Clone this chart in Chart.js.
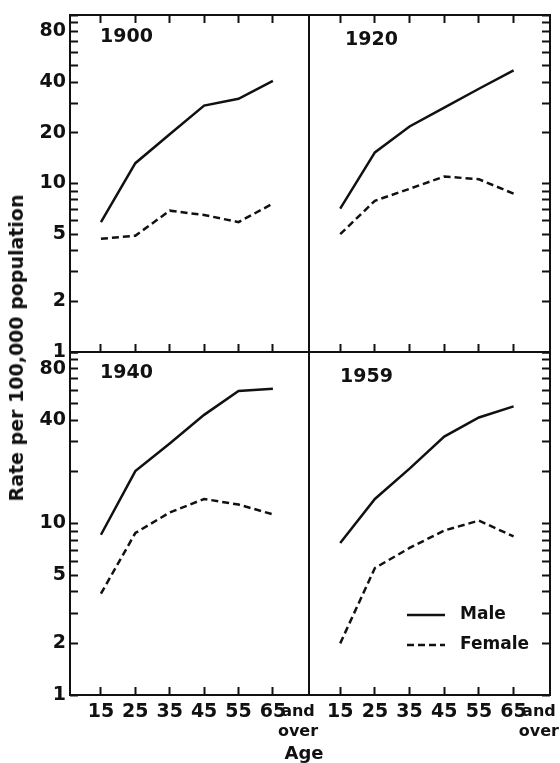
<!DOCTYPE html>
<html>
<head>
<meta charset="utf-8">
<script src="https://cdn.jsdelivr.net/npm/chart.js@4"></script>
<style>
  html, body { margin: 0; padding: 0; background: #fff; }
  body { width: 560px; height: 763px; position: relative; overflow: hidden; font-family: "DejaVu Sans", sans-serif; color: #111; }
  canvas { position: absolute; }
  #yTitle { position: absolute; left: 16px; top: 348px; transform: translate(-50%, -50%) rotate(-90deg); white-space: nowrap; font-size: 19px; font-weight: bold; }
  #xTitle { position: absolute; left: 304px; top: 753px; transform: translate(-50%, -50%); font-size: 18px; line-height: 18px; font-weight: bold; }
</style>
</head>
<body>
<canvas id="p1900" width="330" height="370" style="left:0;top:0"></canvas>
<canvas id="p1920" width="265" height="370" style="left:295px;top:0"></canvas>
<canvas id="p1940" width="330" height="423" style="left:0;top:340px"></canvas>
<canvas id="p1959" width="265" height="423" style="left:295px;top:340px"></canvas>
<div id="yTitle">Rate per 100,000 population</div>
<div id="xTitle">Age</div>
<script>
// age groups: 15-24, 25-34 ... 65 and over
const ages = [15, 25, 35, 45, 55, 65];
const ageTicks = [15, 25, 35, 45, 55, 65, 72.3]; // 72.3 only carries the "and over" text
const yTickMarks = [1, 2, 3, 4, 5, 6, 7, 8, 9, 10, 20, 30, 40, 50, 60, 70, 80, 90, 100];
const yLabelsTop = [1, 2, 5, 10, 20, 40, 80];
const yLabelsBottom = [1, 2, 5, 10, 40, 80];

const male1900 = [5.9, 13.2, 19.6, 29.0, 31.8, 40.7];
const female1900 = [4.7, 4.9, 6.9, 6.5, 5.9, 7.6];
const male1920 = [7.1, 15.3, 21.8, 28.2, 36.5, 46.9];
const female1920 = [5.0, 7.9, 9.3, 11.0, 10.6, 8.7];
const male1940 = [8.6, 20.2, 29.3, 43.0, 59.2, 61.0];
const female1940 = [3.9, 8.8, 11.6, 13.9, 12.9, 11.3];
const male1959 = [7.7, 13.9, 20.9, 32.1, 41.5, 48.2];
const female1959 = [2.0, 5.5, 7.2, 9.1, 10.4, 8.4];

const ink = '#111';
const fam = '"DejaVu Sans", sans-serif';
const isOver = c => c.tick && c.tick.value > 70;

const panelDeco = {
  id: 'panelDeco',
  afterDraw(chart, args, o) {
    const { ctx, chartArea: a } = chart;
    ctx.save();
    ctx.strokeStyle = ink;
    ctx.lineWidth = 2;
    ctx.strokeRect(a.left, a.top, a.right - a.left, a.bottom - a.top);
    ctx.fillStyle = ink;
    ctx.font = 'bold 19px ' + fam;
    ctx.textBaseline = 'middle';
    ctx.fillText(o.year, a.left + o.dx, a.top + o.dy);
    if (o.legend) {
      ctx.font = 'bold 17px ' + fam;
      chart.data.datasets.forEach((ds, i) => {
        const y = a.top + 263 + i * 30;
        ctx.beginPath();
        ctx.setLineDash(ds.borderDash || []);
        ctx.lineWidth = ds.borderWidth;
        ctx.moveTo(a.left + 98, y);
        ctx.lineTo(a.left + 136, y);
        ctx.stroke();
        ctx.setLineDash([]);
        ctx.fillText(ds.label, a.left + 151, y);
      });
    }
    ctx.restore();
  }
};

function noPad(s) { s.paddingTop = 0; s.paddingBottom = 0; s.paddingLeft = 0; s.paddingRight = 0; }

function xAxis(position, labels, height) {
  return {
    type: 'linear', position: position, min: 6, max: 75.5,
    afterBuildTicks: s => { s.ticks = (labels ? ageTicks : ages).map(v => ({ value: v })); },
    afterFit: s => { s.height = height; noPad(s); },
    grid: {
      drawOnChartArea: false, tickLength: -8, tickWidth: 2,
      tickColor: c => isOver(c) ? 'rgba(0,0,0,0)' : ink
    },
    border: { display: false },
    ticks: {
      display: labels, autoSkip: false, maxRotation: 0, minRotation: 0, padding: 14, color: ink,
      font: c => isOver(c) ? { family: fam, weight: 'bold', size: 16, lineHeight: 1.3 }
                           : { family: fam, weight: 'bold', size: 19 },
      callback: v => v > 70 ? ['and', 'over'] : String(v)
    }
  };
}

function makePanel(id, year, male, female, o) {
  const scales = {
    x: xAxis('bottom', o.bottom, o.bottom ? 68 : 0),
    y: {
      type: 'logarithmic', position: o.left ? 'left' : 'right', min: 1, max: 100,
      afterBuildTicks: s => { s.ticks = yTickMarks.map(v => ({ value: v })); },
      afterFit: s => { s.width = o.left ? 70 : 10; noPad(s); },
      grid: { drawOnChartArea: false, tickLength: -8, tickWidth: 2, tickColor: ink },
      border: { display: false },
      ticks: {
        display: o.left, autoSkip: false, padding: 12, color: ink,
        font: { family: fam, weight: 'bold', size: 19 },
        callback: v => (o.yLabels && o.yLabels.includes(v)) ? String(v) : ''
      }
    }
  };
  if (!o.bottom) scales.xt = xAxis('top', false, 0);

  new Chart(document.getElementById(id), {
    type: 'line',
    data: {
      datasets: [
        { label: 'Male', data: ages.map((a, i) => ({ x: a, y: male[i] })),
          borderColor: ink, borderWidth: 2.5, pointRadius: 0, tension: 0, xAxisID: 'x' },
        { label: 'Female', data: ages.map((a, i) => ({ x: a, y: female[i] })),
          borderColor: ink, borderWidth: 2.5, borderDash: [7, 4], pointRadius: 0, tension: 0, xAxisID: 'x' }
      ]
    },
    options: {
      responsive: false, animation: false,
      layout: { padding: o.pad },
      scales: scales,
      plugins: {
        legend: { display: false }, tooltip: { enabled: false },
        panelDeco: { year: year, dx: o.dx, dy: o.dy, legend: !!o.legend }
      }
    },
    plugins: [panelDeco]
  });
}

makePanel('p1900', '1900', male1900, female1900,
  { left: true, bottom: false, yLabels: yLabelsTop, pad: { top: 15, right: 21, bottom: 18, left: 0 }, dx: 30, dy: 22 });
makePanel('p1920', '1920', male1920, female1920,
  { left: false, bottom: false, pad: { top: 15, right: 0, bottom: 18, left: 14 }, dx: 36, dy: 25 });
makePanel('p1940', '1940', male1940, female1940,
  { left: true, bottom: true, yLabels: yLabelsBottom, pad: { top: 12, right: 21, bottom: 0, left: 0 }, dx: 30, dy: 21 });
makePanel('p1959', '1959', male1959, female1959,
  { left: false, bottom: true, legend: true, pad: { top: 12, right: 0, bottom: 0, left: 14 }, dx: 31, dy: 25 });
</script>
</body>
</html>
